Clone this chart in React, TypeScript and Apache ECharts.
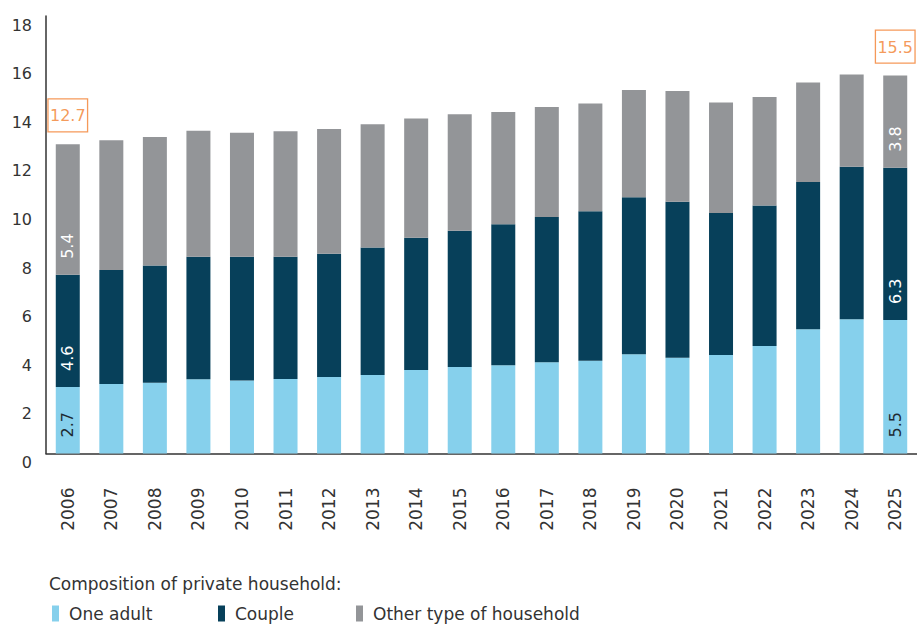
import React, { useEffect, useRef } from "react";
import * as echarts from "echarts";

const years = ["2006","2007","2008","2009","2010","2011","2012","2013","2014","2015","2016","2017","2018","2019","2020","2021","2022","2023","2024","2025"];
const oneAdult = [2.74, 2.86, 2.91, 3.05, 3.00, 3.07, 3.15, 3.23, 3.44, 3.56, 3.63, 3.75, 3.82, 4.08, 3.94, 4.05, 4.42, 5.11, 5.52, 5.49];
const couple = [4.61, 4.69, 4.83, 5.04, 5.09, 5.03, 5.07, 5.25, 5.44, 5.60, 5.80, 5.98, 6.15, 6.46, 6.42, 5.85, 5.78, 6.06, 6.28, 6.27];
const otherType = [5.37, 5.34, 5.28, 5.19, 5.11, 5.16, 5.13, 5.07, 4.90, 4.80, 4.62, 4.53, 4.43, 4.42, 4.55, 4.54, 4.47, 4.09, 3.79, 3.79];
const labelledYears = ["2006", "2025"];
const calloutYears = ["2006", "2025"];
const calloutTexts = ["12.7", "15.5"];
const yTicks = { min: 0, max: 18, interval: 2 };

const FONT = '"DejaVu Sans", sans-serif';
const C_LIGHT = "#86d0ec";
const C_DARK = "#07405a";
const C_GREY = "#939598";
const C_ORANGE = "#f2802f";

export default function App() {
  const ref = useRef<HTMLDivElement>(null);
  useEffect(() => {
    document.body.style.margin = "0";
    if (!ref.current) return;
    const chart = echarts.init(ref.current, undefined, { renderer: "svg" });

    const mkData = (arr: number[]) =>
      arr.map((v, i) => ({ value: v, label: { show: labelledYears.includes(years[i]) } }));

    const barLabel = (color: string) => ({
      show: false,
      rotate: 90,
      position: "insideBottom",
      distance: 16,
      align: "left",
      verticalAlign: "middle",
      color,
      fontSize: 16,
      fontFamily: FONT,
      formatter: (p: any) => Number(p.value).toFixed(1),
    });

    const series: any[] = [
      { name: "One adult", type: "bar", stack: "hh", barWidth: 24, data: mkData(oneAdult), itemStyle: { color: C_LIGHT }, label: barLabel("#1d2a33") },
      { name: "Couple", type: "bar", stack: "hh", barWidth: 24, data: mkData(couple), itemStyle: { color: C_DARK }, label: barLabel("#ffffff") },
      { name: "Other type of household", type: "bar", stack: "hh", barWidth: 24, data: mkData(otherType), itemStyle: { color: C_GREY }, label: barLabel("#ffffff") },
      {
        name: "callout",
        type: "scatter",
        symbolSize: 1,
        itemStyle: { color: "rgba(0,0,0,0)" },
        silent: true,
        z: 10,
        data: calloutYears.map((y, k) => {
          const i = years.indexOf(y);
          return {
            value: [y, oneAdult[i] + couple[i] + otherType[i]],
            label: {
              show: true,
              position: "top",
              distance: 12,
              formatter: calloutTexts[k],
              color: C_ORANGE,
              fontSize: 16,
              fontFamily: FONT,
              borderColor: C_ORANGE,
              borderWidth: 1.3,
              padding: [8, 2, 7, 2],
              lineHeight: 18,
            },
          };
        }),
      },
    ];

    const legendBase = {
      top: 600,
      orient: "horizontal",
      icon: "rect",
      itemWidth: 7,
      itemHeight: 16,
      selectedMode: false,
      textStyle: { fontSize: 17, fontFamily: FONT, color: "#333", padding: [0, 0, 0, 5] },
    };

    chart.setOption({
      animation: false,
      grid: { left: 46, top: 16, width: 874, height: 437.5, containLabel: false },
      xAxis: {
        type: "category",
        data: years,
        axisLine: { show: true, lineStyle: { color: "#333", width: 1.5 } },
        axisTick: { show: false },
        axisLabel: { rotate: 90, margin: 34, fontSize: 17, fontFamily: FONT, color: "#333" },
      },
      yAxis: {
        type: "value",
        min: yTicks.min,
        max: yTicks.max,
        interval: yTicks.interval,
        splitLine: { show: false },
        axisLine: { show: true, lineStyle: { color: "#333", width: 1.5 } },
        axisTick: { show: false },
        axisLabel: { margin: 14, fontSize: 16, fontFamily: FONT, color: "#333", verticalAlign: "top", lineHeight: 18 },
      },
      legend: [
        { ...legendBase, left: 47, data: ["One adult"] },
        { ...legendBase, left: 213, data: ["Couple"] },
        { ...legendBase, left: 351, data: ["Other type of household"] },
      ],
      graphic: [
        {
          type: "text",
          left: 49,
          top: 575,
          style: { text: "Composition of private household:", font: `17px ${FONT}`, fill: "#333" },
        },
      ],
      series,
    });
    return () => chart.dispose();
  }, []);
  return <div ref={ref} style={{ position: "absolute", left: 0, top: 0, width: 917, height: 624 }} />;
}
